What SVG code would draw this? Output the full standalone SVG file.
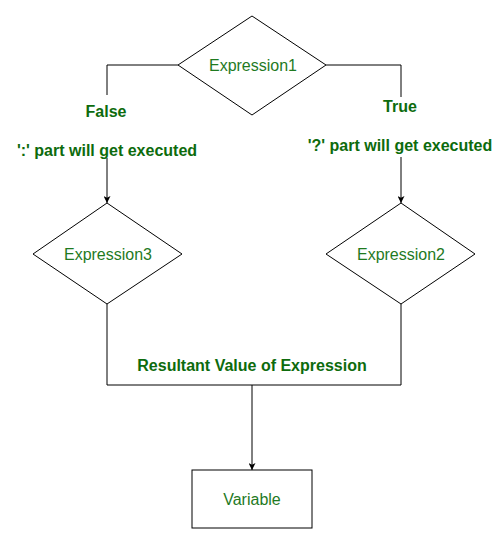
<svg xmlns="http://www.w3.org/2000/svg" width="500" height="539" viewBox="0 0 500 539">
<style>
.shape{fill:#fff;stroke:#000;stroke-width:1}
.lbl{font-family:"Liberation Sans",Arial,sans-serif;font-size:16px;fill:#1f7a1f;text-anchor:middle}
.bold{font-family:"Liberation Sans",Arial,sans-serif;font-size:16px;font-weight:bold;fill:#0d6b0d;text-anchor:middle}
.line{fill:none;stroke:#000;stroke-width:1}
</style>
<defs>
<marker id="arr" viewBox="0 0 10 10" refX="10" refY="5" markerWidth="7" markerHeight="7" orient="auto" markerUnits="userSpaceOnUse">
<path d="M0,0 L10,5 L0,10 L2.5,5 Z" fill="#000"/>
</marker>
</defs>
<rect width="500" height="539" fill="#fff"/>
<g id="connectors">
<polyline class="line" points="178,65 107,65 107,95"/>
<polyline class="line" points="326,65 401,65 401,97"/>
<line class="line" x1="107" y1="158" x2="107" y2="203" marker-end="url(#arr)"/>
<line class="line" x1="401" y1="157" x2="401" y2="203" marker-end="url(#arr)"/>
<polyline class="line" points="107,304 107,385 401,385 401,304"/>
<line class="line" x1="252" y1="385" x2="252" y2="470" marker-end="url(#arr)"/>
<text class="bold" x="106" y="117">False</text>
<text class="bold" x="400" y="112">True</text>
<text class="bold" x="107" y="156">':' part will get executed</text>
<text class="bold" x="400" y="151">'?' part will get executed</text>
<text class="bold" x="252" y="371">Resultant Value of Expression</text>
</g>
<g id="expr1">
<polygon class="shape" points="252,16 326,65 252,115 178,65"/>
<text class="lbl" x="253" y="71">Expression1</text>
</g>
<g id="expr3">
<polygon class="shape" points="107,203 182,254 107,304 33,254"/>
<text class="lbl" x="108" y="260">Expression3</text>
</g>
<g id="expr2">
<polygon class="shape" points="401,203 475,254 401,304 326,254"/>
<text class="lbl" x="401" y="260">Expression2</text>
</g>
<g id="variable">
<rect class="shape" x="192" y="470" width="120" height="58"/>
<text class="lbl" x="252" y="505">Variable</text>
</g>
</svg>
